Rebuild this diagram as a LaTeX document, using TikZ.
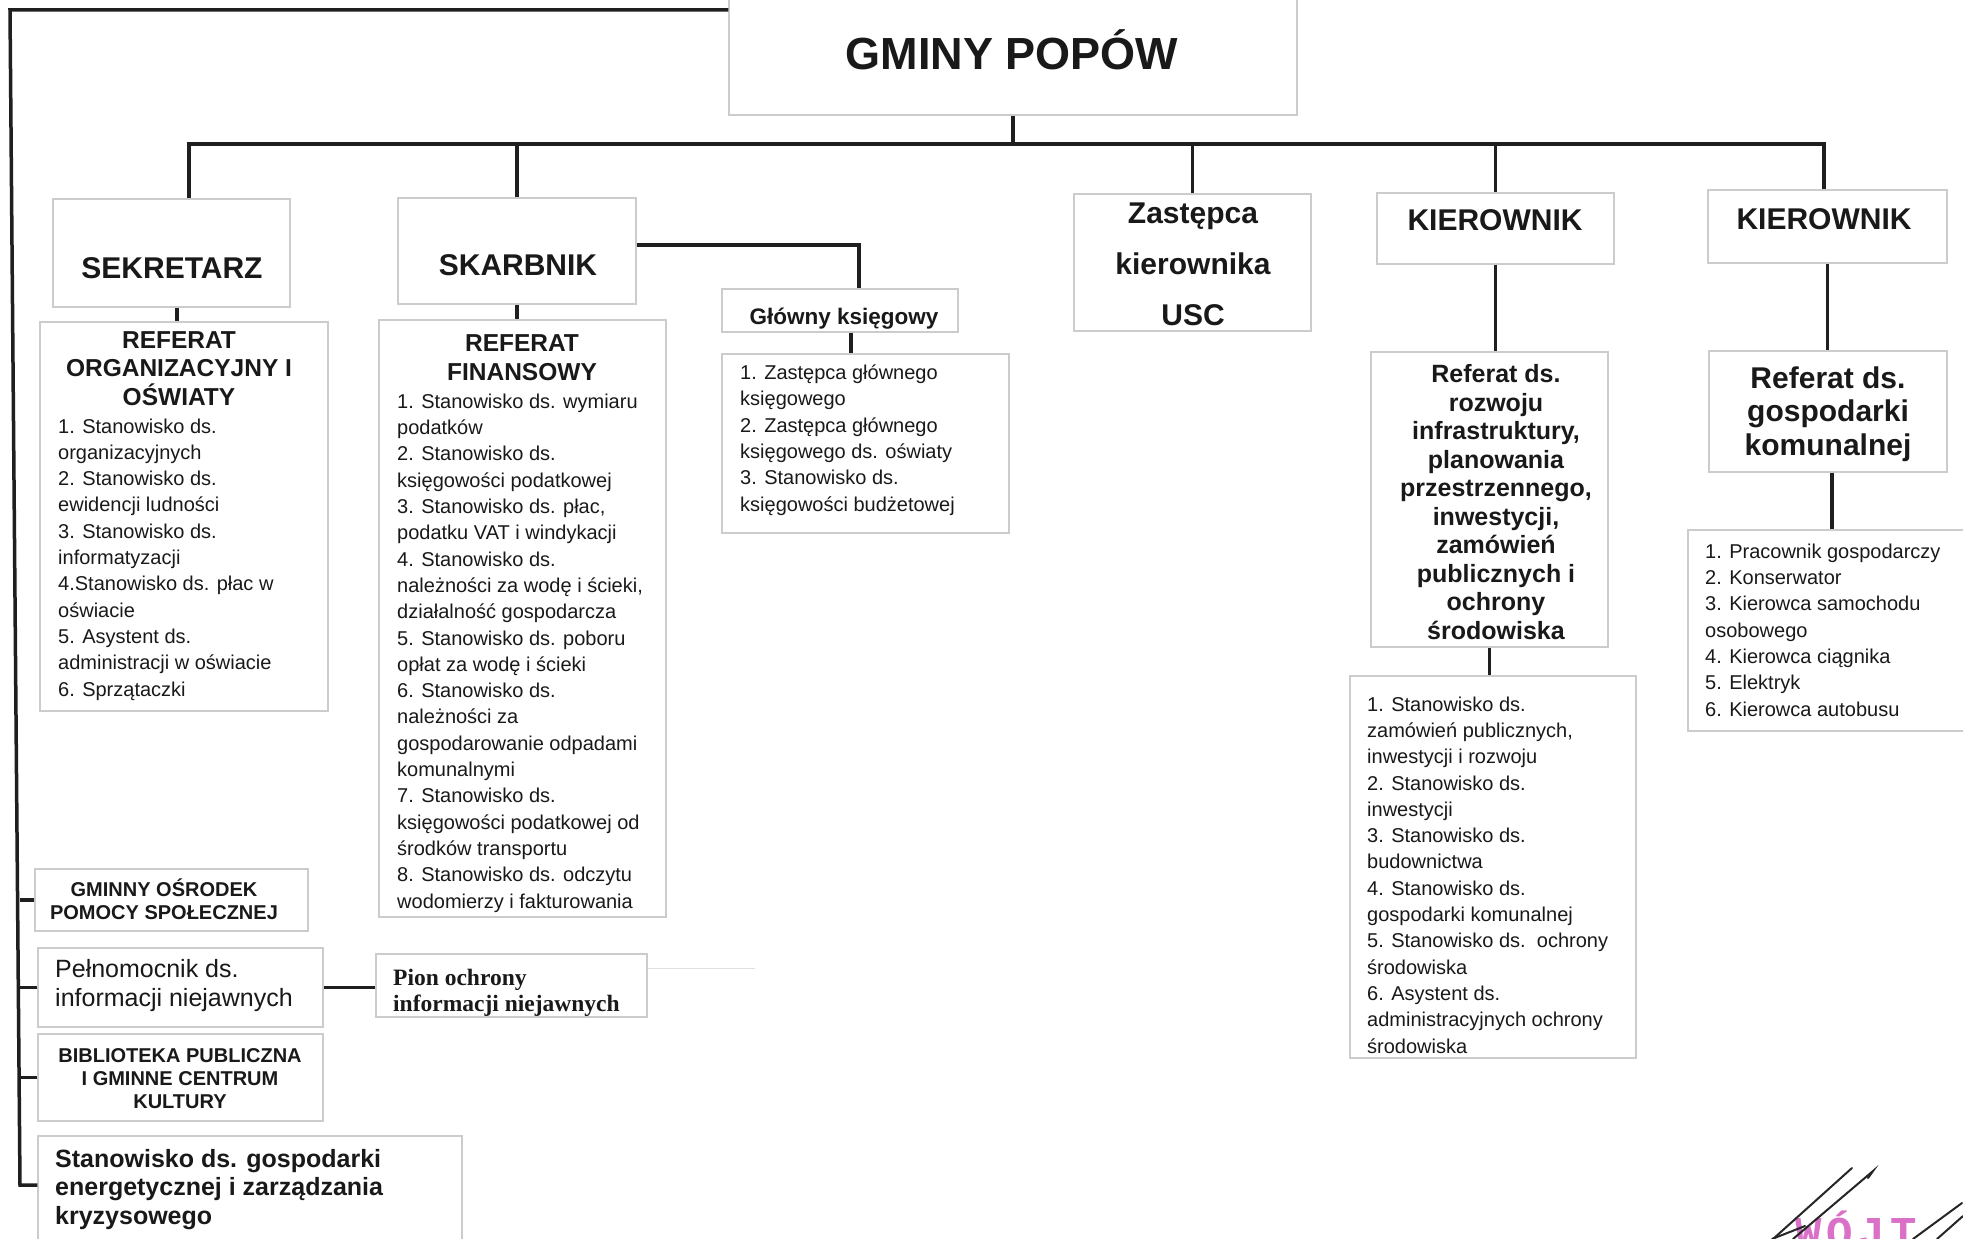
\documentclass[tikz,border=0pt]{standalone}
\usepackage{fontspec}
\setmainfont{Liberation Sans}
\newfontfamily\pionfont{Liberation Serif}
\newfontfamily\stampfont[LetterSpace=12]{Liberation Mono}
\usetikzlibrary{fit}
\newcommand\setfs[2]{\fontsize{#1}{#2}\selectfont}
\definecolor{stamp}{RGB}{218,112,200}
\begin{document}
\begin{tikzpicture}[x=1pt,y=-1pt,
  box/.style={draw=black!20, line width=1.2pt, inner sep=0pt, rectangle},
  conn/.style={line width=3.5pt, draw=black!88},
  txt/.style={inner sep=0pt, text=black!90},
  lst/.style={txt, anchor=base west, align=left, font=\setfs{20}{26.3}},
  sig/.style={draw=black!85, line width=2pt, line cap=round},
]
\useasboundingbox (0,0) rectangle (1963,1239);
\fill[white] (0,0) rectangle (1963,1239);

% boxes
\node[box, fit={(729,-5) (1297,115)}] (gminy) {};
\node[box, fit={(53,199) (290,307)}] (sek) {};
\node[box, fit={(398,198) (636,304)}] (skarb) {};
\node[box, fit={(722,289) (958,332)}] (glowny) {};
\node[box, fit={(722,354) (1009,533)}] (glist) {};
\node[box, fit={(40,322) (328,711)}] (org) {};
\node[box, fit={(379,320) (666,917)}] (fin) {};
\node[box, fit={(1074,194) (1311,331)}] (zast) {};
\node[box, fit={(1377,193) (1614,264)}] (kier1) {};
\node[box, fit={(1371,352) (1608,647)}] (roz) {};
\node[box, fit={(1350,676) (1636,1058)}] (rozl) {};
\node[box, fit={(1708,190) (1947,263)}] (kier2) {};
\node[box, fit={(1709,351) (1947,472)}] (kom) {};
\node[box, fit={(1688,530) (1975,731)}] (koml) {};
\node[box, fit={(35,869) (308,931)}] (gops) {};
\node[box, fit={(38,948) (323,1027)}] (peln) {};
\node[box, fit={(376,954) (647,1017)}] (pion) {};
\node[box, fit={(38,1034) (323,1121)}] (bibl) {};
\node[box, fit={(38,1136) (462,1250)}] (ener) {};

% texts (multi-line nodes: base = baseline of last line)
\node[txt, anchor=base, font=\bfseries\setfs{45}{54}] (gminyT) at (1012,70) {GMINY POPÓW};
\node[txt, anchor=base, font=\bfseries\setfs{30}{36}] (sekT) at (172,278) {SEKRETARZ};
\node[txt, anchor=base, font=\bfseries\setfs{30}{36}] (skarbT) at (518,275) {SKARBNIK};
\node[txt, anchor=base, font=\bfseries\setfs{22.5}{27}] (glownyT) at (844,324) {Główny księgowy};
\node[txt, anchor=base, align=center, font=\bfseries\setfs{30}{50.7}] (zastT) at (1193,325) {Zastępca\\kierownika\\USC};
\node[txt, anchor=base, font=\bfseries\setfs{30}{36}] (kier1T) at (1495,230) {KIEROWNIK};
\node[txt, anchor=base, font=\bfseries\setfs{30}{36}] (kier2T) at (1824,229) {KIEROWNIK};

\node[txt, anchor=base, align=center, font=\bfseries\setfs{24.5}{28.5}] (orgT) at (179,405) {REFERAT\\ORGANIZACYJNY I\\OŚWIATY};
\node[lst] (orgL) at (58,696) {1. Stanowisko ds.\\organizacyjnych\\2. Stanowisko ds.\\ewidencji ludności\\3. Stanowisko ds.\\informatyzacji\\4.Stanowisko ds. płac w\\oświacie\\5. Asystent ds.\\administracji w oświacie\\6. Sprzątaczki};

\node[txt, anchor=base, align=center, font=\bfseries\setfs{24.5}{29}] (finT) at (522,380) {REFERAT\\FINANSOWY};
\node[lst] (finL) at (397,908) {1. Stanowisko ds. wymiaru\\podatków\\2. Stanowisko ds.\\księgowości podatkowej\\3. Stanowisko ds. płac,\\podatku VAT i windykacji\\4. Stanowisko ds.\\należności za wodę i ścieki,\\działalność gospodarcza\\5. Stanowisko ds. poboru\\opłat za wodę i ścieki\\6. Stanowisko ds.\\należności za\\gospodarowanie odpadami\\komunalnymi\\7. Stanowisko ds.\\księgowości podatkowej od\\środków transportu\\8. Stanowisko ds. odczytu\\wodomierzy i fakturowania};

\node[lst] (glistL) at (740,511) {1. Zastępca głównego\\księgowego\\2. Zastępca głównego\\księgowego ds. oświaty\\3. Stanowisko ds.\\księgowości budżetowej};

\node[txt, anchor=base, align=center, font=\bfseries\setfs{25}{28.5}] (rozT) at (1496,639) {Referat ds.\\rozwoju\\infrastruktury,\\planowania\\przestrzennego,\\inwestycji,\\zamówień\\publicznych i\\ochrony\\środowiska};
\node[lst] (rozlL) at (1367,1053) {1. Stanowisko ds.\\zamówień publicznych,\\inwestycji i rozwoju\\2. Stanowisko ds.\\inwestycji\\3. Stanowisko ds.\\budownictwa\\4. Stanowisko ds.\\gospodarki komunalnej\\5. Stanowisko ds.\ \ ochrony\\środowiska\\6. Asystent ds.\\administracyjnych ochrony\\środowiska};

\node[txt, anchor=base, align=center, font=\bfseries\setfs{30}{33.5}] (komT) at (1828,455) {Referat ds.\\gospodarki\\komunalnej};
\node[lst] (komlL) at (1705,716) {1. Pracownik gospodarczy\\2. Konserwator\\3. Kierowca samochodu\\osobowego\\4. Kierowca ciągnika\\5. Elektryk\\6. Kierowca autobusu};

\node[txt, anchor=base, align=center, font=\bfseries\setfs{20}{22.5}] (gopsT) at (164,919) {GMINNY OŚRODEK\\POMOCY SPOŁECZNEJ};
\node[txt, anchor=base west, align=left, font=\setfs{25}{29}] (pelnT) at (55,1006) {Pełnomocnik ds.\\informacji niejawnych};
\node[txt, anchor=base west, align=left, font=\pionfont\bfseries\setfs{23.5}{26}] (pionT) at (393,1011) {Pion ochrony\\informacji niejawnych};
\node[txt, anchor=base, align=center, font=\bfseries\setfs{20}{23}] (biblT) at (180,1108) {BIBLIOTEKA PUBLICZNA\\I GMINNE CENTRUM\\KULTURY};
\node[txt, anchor=base west, align=left, font=\bfseries\setfs{25}{28.5}] (enerT) at (55,1224) {Stanowisko ds. gospodarki\\energetycznej i zarządzania\\kryzysowego};

% connectors
\coordinate (busL) at (189,144);
\coordinate (busR) at (1824,144);
\draw[conn] (gminy.south) -- (gminy.south |- busL);
\draw[conn] (busL |- sek.north) -- (busL) -- (busR) -- (busR |- kier2.north);
\draw[conn] (skarb.north |- busL) -- (skarb.north);
\draw[conn] (zast.north |- busL) -- (zast.north);
\draw[conn] (kier1.north |- busL) -- (kier1.north);

\coordinate (j1) at (177,0);
\draw[conn] (j1 |- sek.south) -- (j1 |- org.north);
\draw[conn] (skarb.south) -- (skarb.south |- fin.north);
\coordinate (gk) at (859,245);
\draw[conn] (skarb.east |- gk) -- (gk) -- (gk |- glowny.north);
\coordinate (j2) at (851,0);
\draw[conn] (j2 |- glowny.south) -- (j2 |- glist.north);

\draw[conn] (kier1.south) -- (kier1.south |- roz.north);
\draw[conn] (roz.south) -- (roz.south |- rozl.north);
\draw[conn] (kier2.south) -- (kier2.south |- kom.north);
\coordinate (j3) at (1832,0);
\draw[conn] (j3 |- kom.south) -- (j3 |- koml.north);

\coordinate (tl) at (10,10);
\coordinate (bl) at (20,1185);
\draw[conn] (gminy.west |- tl) -- (tl) -- (bl) -- (bl -| ener.west);
\draw[conn] (gops.west) -- (gops.west -| bl);
\draw[conn] (peln.west) -- (peln.west -| bl);
\draw[conn] (bibl.west) -- (bibl.west -| bl);
\draw[conn] (peln.east) -- (peln.east -| pion.west);
\coordinate (faint) at (755,968);
\draw[black!12, line width=1pt] (pion.east |- faint) -- (faint);

% stamp and signature
\node[txt, anchor=base west, text=stamp, font=\stampfont\bfseries\setfs{44}{44}] (wojt) at (1795,1247) {WÓJT};
\draw[sig] (1773,1239) -- (1852,1168);
\draw[sig] (1793,1239) -- (1873,1171) -- (1868,1178);
\draw[sig] (1772,1239) -- (1805,1226);
\draw[sig] (1913,1239) -- (1962,1203);
\draw[sig] (1937,1239) -- (1963,1216);
\end{tikzpicture}
\end{document}
